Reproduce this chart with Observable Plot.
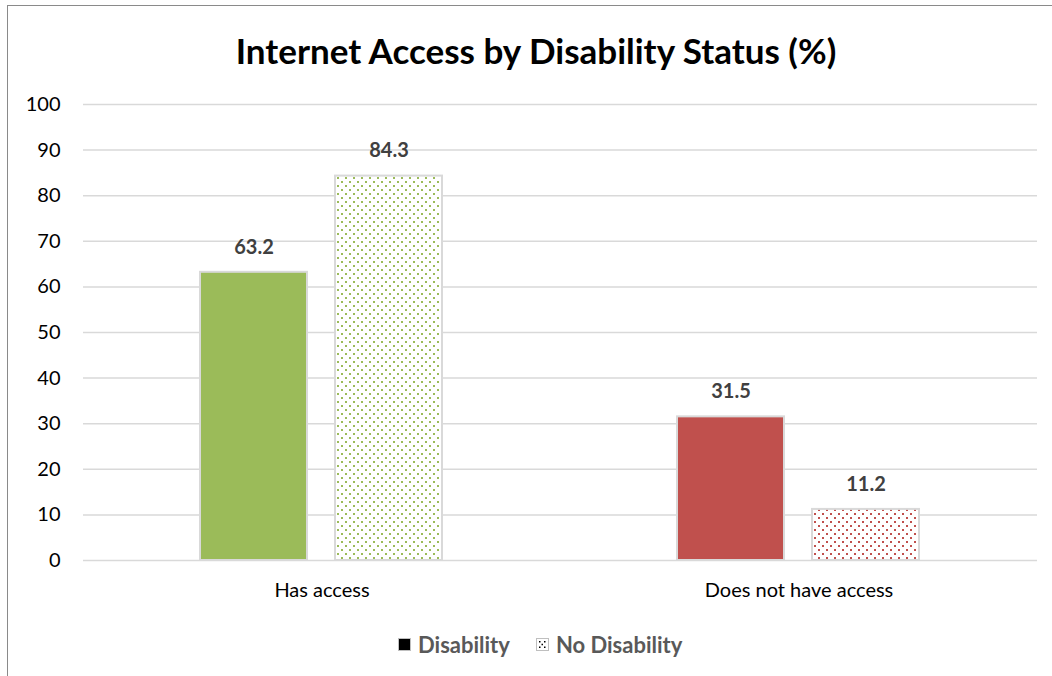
<!DOCTYPE html>
<html>
<head>
<meta charset="utf-8">
<script src="https://cdn.jsdelivr.net/npm/d3@7"></script>
<script src="https://cdn.jsdelivr.net/npm/@observablehq/plot@0.6"></script>
<style>
  html, body { margin: 0; padding: 0; background: #fff; width: 1052px; height: 676px; overflow: hidden; }
  body { position: relative; font-family: Lato, "Open Sans", sans-serif; }
  #frame { position: absolute; left: 7px; top: 5px; width: 1100px; height: 700px;
           border-left: 1.5px solid #8a8a8a; border-top: 1.5px solid #8a8a8a; }
  #title { position: absolute; left: 0; width: 1072px; top: 28px; text-align: center;
           font-weight: 700; font-size: 35px; line-height: 44px; color: #000; }
  #chart { position: absolute; left: 0; top: 80px; }
  #legend { position: absolute; left: 398px; top: 631px; display: flex; align-items: center;
            font-weight: 700; font-size: 22px; color: #595959; }
  .sw { width: 13px; height: 13px; border: 1px solid #bfbfbf; margin-right: 7px; box-sizing: border-box; }
  .item { display: flex; align-items: center; margin-right: 26px; }
</style>
</head>
<body>
<div id="frame"></div>
<div id="title">Internet Access by Disability Status (%)</div>
<div id="chart"></div>
<div id="legend">
  <div class="item"><div class="sw" style="background:#000"></div>Disability</div>
  <div class="item"><svg class="sw" width="13" height="13" style="border:none;padding:0">
    <rect x="0.5" y="0.5" width="12" height="12" fill="#fff" stroke="#bfbfbf"/>
    <rect x="3" y="3" width="1.5" height="1.5" fill="#000"/><rect x="8" y="3" width="1.5" height="1.5" fill="#000"/>
    <rect x="5.5" y="5.75" width="1.5" height="1.5" fill="#000"/>
    <rect x="3" y="8.5" width="1.5" height="1.5" fill="#000"/><rect x="8" y="8.5" width="1.5" height="1.5" fill="#000"/>
  </svg>No Disability</div>
</div>
<script>
const categories = ["Has access", "Does not have access"];
const series = ["Disability", "No Disability"];
const disability = [63.2, 31.5];
const noDisability = [84.3, 11.2];
const yTicks = [0, 10, 20, 30, 40, 50, 60, 70, 80, 90, 100];

const solid = {"Has access": "#9BBB59", "Does not have access": "#C0504D"};
const dotted = {"Has access": "url(#dotsGreen)", "Does not have access": "url(#dotsRed)"};

const rows = [];
categories.forEach((c, i) => {
  rows.push({category: c, series: series[0], value: disability[i], fill: solid[c]});
  rows.push({category: c, series: series[1], value: noDisability[i], fill: dotted[c]});
});

const plot = Plot.plot({
  width: 1052,
  height: 530,
  marginTop: 24,
  marginBottom: 50,
  marginLeft: 83,
  marginRight: 15,
  style: {fontFamily: "Lato, 'Open Sans', sans-serif", fontSize: "20px", color: "#000", background: "transparent"},
  fx: {domain: categories, padding: 0, label: null, axis: "bottom", tickSize: 0, tickPadding: 22},
  x: {domain: series, paddingInner: 0.207, paddingOuter: 0.87, axis: null},
  y: {domain: [0, 100], ticks: yTicks, label: null, tickSize: 0, tickPadding: 23, tickFormat: d => String(d)},
  color: {type: "identity"},
  marks: [
    Plot.gridY(yTicks, {stroke: "#d9d9d9", strokeOpacity: 1, strokeWidth: 1.5}),
    Plot.barY(rows, {fx: "category", x: "series", y: "value", fill: "fill", stroke: "#d9d9d9", strokeWidth: 2}),
    Plot.text(rows, {fx: "category", x: "series", y: "value", text: d => d.value.toFixed(1), dy: -25,
      fill: "#404040", fontWeight: 700, fontSize: 20})
  ]
});

const defs = d3.select(plot).insert("defs", ":first-child");
[["dotsGreen", "#9BBB59"], ["dotsRed", "#C0504D"]].forEach(([id, col]) => {
  const p = defs.append("pattern").attr("id", id).attr("patternUnits", "userSpaceOnUse")
    .attr("width", 8).attr("height", 8);
  p.append("rect").attr("width", 8).attr("height", 8).attr("fill", "#fff");
  p.append("rect").attr("x", 1).attr("y", 1).attr("width", 2).attr("height", 2).attr("fill", col);
  p.append("rect").attr("x", 5).attr("y", 5).attr("width", 2).attr("height", 2).attr("fill", col);
});

document.getElementById("chart").appendChild(plot);
</script>
</body>
</html>
